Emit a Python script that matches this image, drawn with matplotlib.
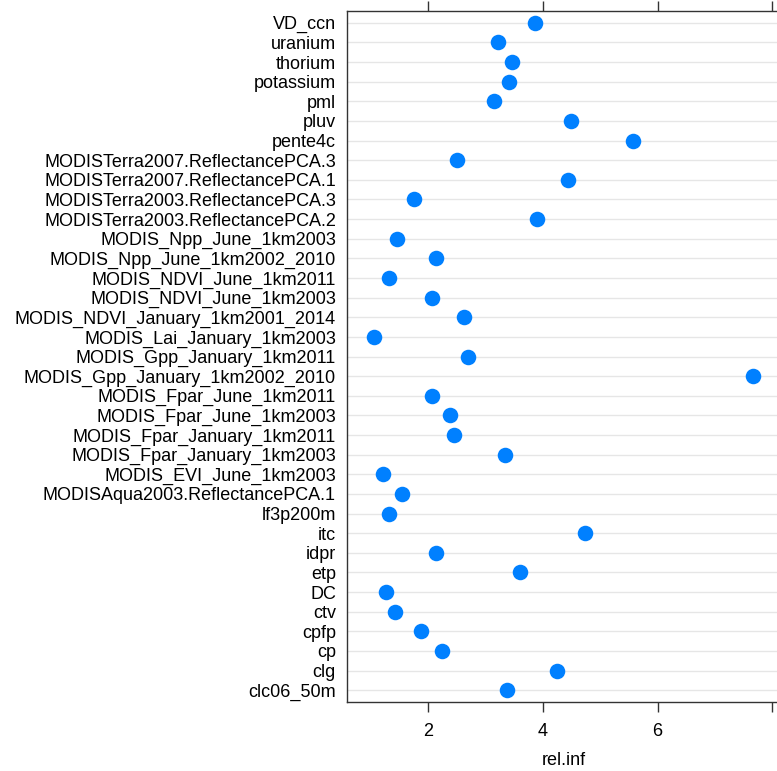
import matplotlib
matplotlib.use("Agg")
import matplotlib.pyplot as plt

plt.rcParams['font.family'] = ['Liberation Sans', 'DejaVu Sans']

# variables listed top to bottom
variables = [
    "VD_ccn", "uranium", "thorium", "potassium", "pml", "pluv", "pente4c",
    "MODISTerra2007.ReflectancePCA.3", "MODISTerra2007.ReflectancePCA.1",
    "MODISTerra2003.ReflectancePCA.3", "MODISTerra2003.ReflectancePCA.2",
    "MODIS_Npp_June_1km2003", "MODIS_Npp_June_1km2002_2010",
    "MODIS_NDVI_June_1km2011", "MODIS_NDVI_June_1km2003",
    "MODIS_NDVI_January_1km2001_2014", "MODIS_Lai_January_1km2003",
    "MODIS_Gpp_January_1km2011", "MODIS_Gpp_January_1km2002_2010",
    "MODIS_Fpar_June_1km2011", "MODIS_Fpar_June_1km2003",
    "MODIS_Fpar_January_1km2011", "MODIS_Fpar_January_1km2003",
    "MODIS_EVI_June_1km2003", "MODISAqua2003.ReflectancePCA.1",
    "lf3p200m", "itc", "idpr", "etp", "DC", "ctv", "cpfp", "cp", "clg",
    "clc06_50m",
]
rel_inf = [
    3.87, 3.21, 3.47, 3.41, 3.15, 4.49, 5.57,
    2.51, 4.44, 1.76, 3.90,
    1.45, 2.14, 1.31, 2.06, 2.63, 1.05,
    2.70, 7.67, 2.06, 2.39, 2.46, 3.34,
    1.21, 1.54, 1.31, 4.74, 2.14, 3.61, 1.26, 1.42, 1.87, 2.25, 4.25,
    3.38,
]

n = len(variables)
ypos = list(range(n, 0, -1))

fig = plt.figure(figsize=(7.77, 7.71), dpi=100)
ax = fig.add_axes([347 / 777, 69 / 771, 433 / 777, 691 / 771])

for y in ypos:
    ax.axhline(y, color="#e6e6e6", lw=1.0, zorder=1)
ax.scatter(rel_inf, ypos, s=125, color="#0080ff", zorder=3, linewidths=0)

lo, hi = min(rel_inf), max(rel_inf)
pad = 0.07 * (hi - lo)
ax.set_xlim(lo - pad, hi + pad)
ax.set_ylim(0.4, n + 0.6)

ax.set_yticks(ypos)
ax.set_yticklabels(variables, fontsize=13)
ax.tick_params(axis="y", length=0, pad=8)
ax.set_xticks([2, 4, 6, 8])
ax.set_xticklabels(["2", "4", "6", ""], fontsize=13)
ax.tick_params(axis="x", direction="out", length=7, width=1, top=True,
               labeltop=False, pad=8, color="#333333")
ax.set_xlabel("rel.inf", fontsize=13, labelpad=9)

for s in ax.spines.values():
    s.set_color("#333333")
    s.set_linewidth(1.0)
# the right border falls just outside the picture in the reference
ax.spines["right"].set_visible(False)

fig.savefig("out.png", dpi=100)
